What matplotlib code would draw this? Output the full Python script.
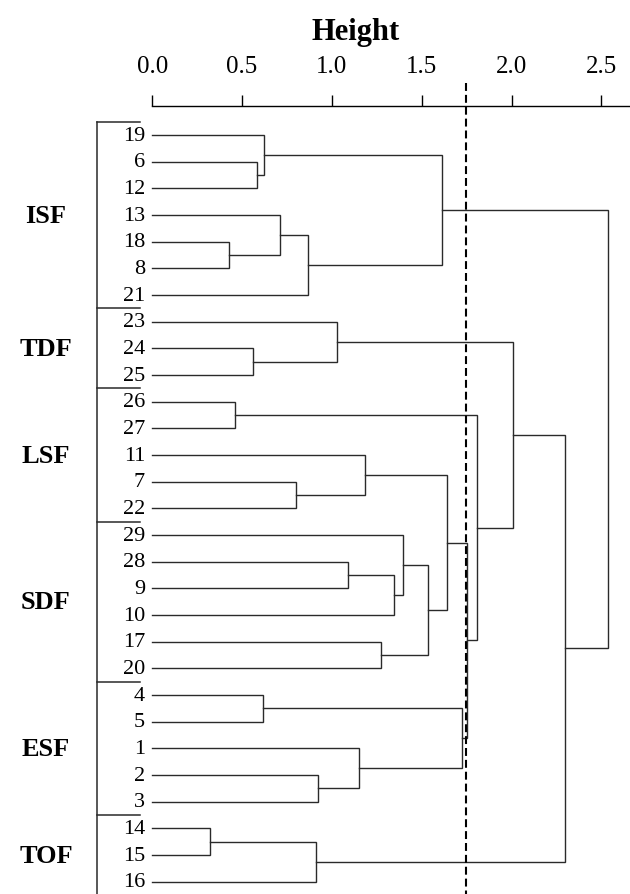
import numpy as np
import matplotlib.pyplot as plt

# leaf order top -> bottom
leaves = ['19', '6', '12', '13', '18', '8', '21', '23', '24', '25', '26', '27', '11', '7', '22',
          '29', '28', '9', '10', '17', '20', '4', '5', '1', '2', '3', '14', '15', '16']

# merges: two clusters (leaf label or earlier merge "m<k>") and the height they join at
merge_a = ['6', '19', '18', '13', 'm3', 'm1', '24', '23', '26', '7', '11', '28', 'm11', '29',
           '17', 'm13', 'm10', '4', '2', '1', 'm17', 'm16', 'm8', 'm7', '14', 'm24', 'm23', 'm5']
merge_b = ['12', 'm0', '8', 'm2', '21', 'm4', '25', 'm6', '27', '22', 'm9', '9', '10', 'm12',
           '20', 'm14', 'm15', '5', '3', 'm18', 'm19', 'm20', 'm21', 'm22', '15', '16', 'm25', 'm26']
merge_h = [0.581, 0.624, 0.429, 0.711, 0.865, 1.611, 0.561, 1.030, 0.461, 0.801, 1.184, 1.092,
           1.348, 1.397, 1.274, 1.537, 1.640, 0.619, 0.922, 1.150, 1.723, 1.750, 1.810, 2.007,
           0.322, 0.912, 2.300, 2.539]

cut_height = 1.745

groups = ['ISF', 'TDF', 'LSF', 'SDF', 'ESF', 'TOF']
group_sizes = [7, 3, 5, 6, 5, 3]

xticks = [0.0, 0.5, 1.0, 1.5, 2.0, 2.5]

plt.rcParams['font.family'] = ['Liberation Serif', 'DejaVu Serif']

fig = plt.figure(figsize=(6.3, 8.95), dpi=100)
# px layout: 0.0 at x=152.3, 179.6 px per unit; leaves at y=136 + 26.67*i
ax = fig.add_axes([0, 0, 1, 1 - 122.7 / 895])
ax.set_xlim(-152.3 / 179.6, (630 - 152.3) / 179.6)
ax.set_ylim((895 - 136) / 26.67, -0.5)

line_col = '#2a2a2a'

# node positions
pos_y = {name: i for i, name in enumerate(leaves)}
pos_x = {name: 0.0 for name in leaves}
for k, (a, b, h) in enumerate(zip(merge_a, merge_b, merge_h)):
    ya, yb = pos_y[a], pos_y[b]
    ax.plot([pos_x[a], h, h, pos_x[b]], [ya, ya, yb, yb], color=line_col, lw=1.0,
            solid_joinstyle='miter')
    pos_y['m%d' % k] = (ya + yb) / 2
    pos_x['m%d' % k] = h

# leaf labels
for i, name in enumerate(leaves):
    ax.text(-0.04, i, name, ha='right', va='center', fontsize=16)

# cut line
ax.plot([cut_height, cut_height], [-1.95, 28.6], color='black', lw=1.5,
        dashes=(3.8, 1.9), clip_on=False)

# group bracket and labels
bounds = np.concatenate([[0], np.cumsum(group_sizes)]) - 0.5
ax.plot([-0.306, -0.306], [bounds[0], bounds[-1] + 0.1], color=line_col, lw=1.1, clip_on=False)
for b in bounds:
    ax.plot([-0.306, -0.068], [b, b], color=line_col, lw=1.1, clip_on=False)
for g, lo, hi in zip(groups, bounds[:-1], bounds[1:]):
    ax.text(-0.592, (lo + hi) / 2, g, ha='center', va='center', fontsize=19, fontweight='bold')

# top axis
for s in ['left', 'right', 'bottom']:
    ax.spines[s].set_visible(False)
ax.spines['top'].set_position(('outward', 11.5))
ax.spines['top'].set_bounds(0, (630 - 152.3) / 179.6)
ax.spines['top'].set_linewidth(1.0)
ax.xaxis.tick_top()
ax.set_xticks(xticks)
ax.set_xticklabels(['%.1f' % t for t in xticks], fontsize=18)
ax.tick_params(axis='x', length=7.7, width=1.0, pad=13, direction='out')
ax.set_yticks([])

fig.text(356 / 630, 1 - 40 / 895, 'Height', ha='center', va='baseline',
         fontsize=22, fontweight='bold')

fig.savefig('out.png', dpi=100)
